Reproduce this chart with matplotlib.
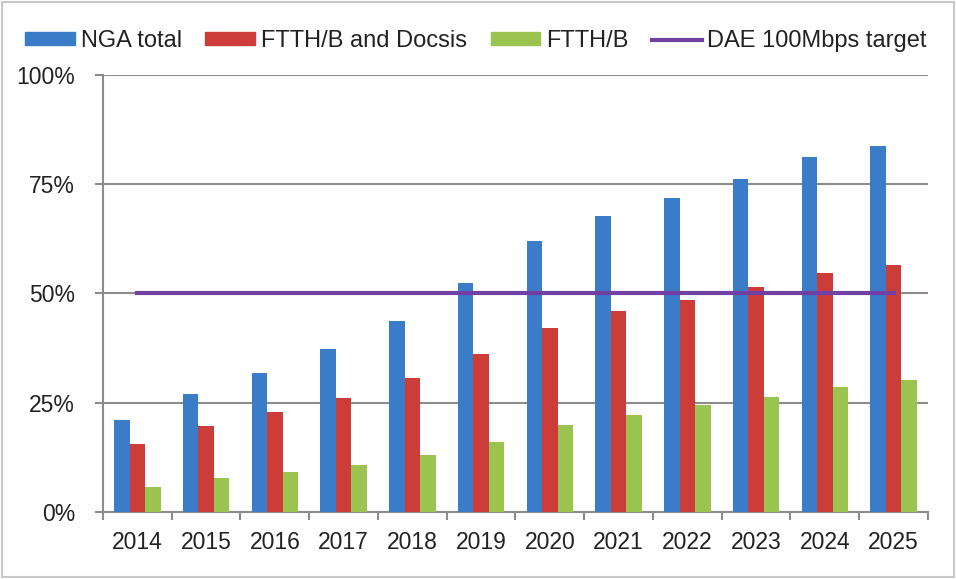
import matplotlib.pyplot as plt
import numpy as np
from matplotlib.patches import Patch, Rectangle
from matplotlib.lines import Line2D
from matplotlib.ticker import FixedLocator, PercentFormatter

years = ["2014", "2015", "2016", "2017", "2018", "2019",
         "2020", "2021", "2022", "2023", "2024", "2025"]
nga_total = [21.1, 27.1, 31.8, 37.3, 43.8, 52.4, 62.1, 67.8, 71.9, 76.2, 81.2, 83.8]
ftth_docsis = [15.6, 19.6, 22.8, 26.2, 30.6, 36.1, 42.2, 45.9, 48.6, 51.6, 54.7, 56.5]
ftth_b = [5.7, 7.7, 9.1, 10.8, 13.0, 16.0, 19.8, 22.3, 24.5, 26.3, 28.6, 30.3]
dae_target = 50

colors = {"nga": "#3B7CC9", "docsis": "#CC3D3A", "ftth": "#9AC44F", "dae": "#7040A4"}
axis_grey = "#8C8C8C"

plt.rcParams["font.family"] = ["Liberation Sans", "DejaVu Sans"]

fig = plt.figure(figsize=(9.56, 5.79), dpi=100)
ax = fig.add_axes([0.1077, 0.1157, 0.8630, 0.7548])

x = np.arange(len(years))
w = 0.225
ax.bar(x - w, nga_total, w, color=colors["nga"], zorder=3)
ax.bar(x, ftth_docsis, w, color=colors["docsis"], zorder=3)
ax.bar(x + w, ftth_b, w, color=colors["ftth"], zorder=3)
ax.plot([x[0], x[-1]], [dae_target, dae_target], color=colors["dae"], lw=3, zorder=4)

ax.set_xlim(-0.5, len(years) - 0.5)
ax.set_ylim(0, 100)
ax.set_yticks([0, 25, 50, 75, 100])
ax.yaxis.set_major_formatter(PercentFormatter(decimals=0))
ax.set_xticks(x)
ax.set_xticklabels(years)
ax.xaxis.set_minor_locator(FixedLocator(np.arange(-0.5, len(years), 1)))
ax.tick_params(axis="x", which="major", length=0, pad=14, labelsize=16.5, labelcolor="#222222")
ax.tick_params(axis="x", which="minor", length=6, width=1.5, color=axis_grey)
ax.tick_params(axis="y", length=6, width=1.5, color=axis_grey, pad=14,
               labelsize=16.5, labelcolor="#222222")

ax.grid(axis="y", color=axis_grey, lw=1.5, zorder=0)
for side in ("top", "right"):
    ax.spines[side].set_visible(False)
for side in ("left", "bottom"):
    ax.spines[side].set_color(axis_grey)
    ax.spines[side].set_linewidth(1.5)

handles = [
    Patch(color=colors["nga"], label="NGA total"),
    Patch(color=colors["docsis"], label="FTTH/B and Docsis"),
    Patch(color=colors["ftth"], label="FTTH/B"),
    Line2D([], [], color=colors["dae"], lw=3, label="DAE 100Mbps target"),
]
fig.legend(handles=handles, loc="center", bbox_to_anchor=(0.498, 0.929), ncol=4,
           frameon=False, fontsize=17, handlelength=2.1, handleheight=0.5,
           handletextpad=0.25, columnspacing=1.0, labelcolor="#222222")

fig.patches.append(Rectangle((0.002, 0.003), 0.996, 0.994, transform=fig.transFigure,
                             fill=False, edgecolor="#C8C8C8", lw=1.5))

fig.savefig("out.png", dpi=100)
